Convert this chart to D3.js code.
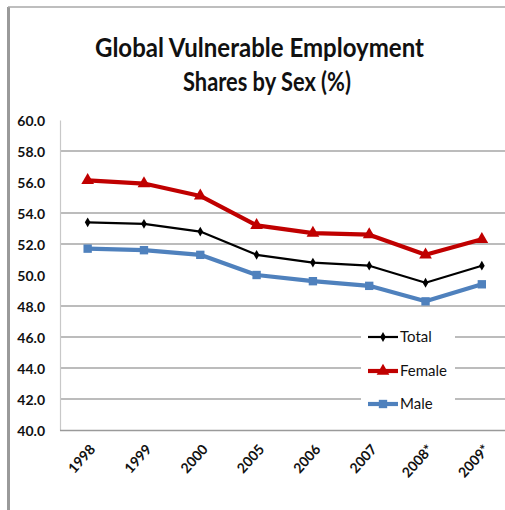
<!DOCTYPE html>
<html>
<head>
<meta charset="utf-8">
<script src="https://cdn.jsdelivr.net/npm/d3@7/dist/d3.min.js"></script>
<style>
  html, body { margin: 0; padding: 0; background: #fff; }
  svg { display: block; }
</style>
</head>
<body>
<svg id="chart" width="505" height="510"></svg>
<script>
// Years on the category axis (starred years are projections)
const years = ["1998", "1999", "2000", "2005", "2006", "2007", "2008*", "2009*"];

// Vulnerable employment shares, percent
const totalShare  = [53.4, 53.3, 52.8, 51.3, 50.8, 50.6, 49.5, 50.6];
const femaleShare = [56.1, 55.9, 55.1, 53.2, 52.7, 52.6, 51.3, 52.3];
const maleShare   = [51.7, 51.6, 51.3, 50.0, 49.6, 49.3, 48.3, 49.4];

// Value axis ticks and the horizontal gridlines that are drawn
const yTicks = [40, 42, 44, 46, 48, 50, 52, 54, 56, 58, 60];
const gridValues = [42, 44, 46, 48, 52, 54, 58];

const titleLines = ["Global Vulnerable Employment", "Shares by Sex (%)"];

const seriesList = [
  { name: "Total",  values: totalShare,  color: "#000000", width: 2.2, symbol: d3.symbolDiamond,  size: 28 },
  { name: "Female", values: femaleShare, color: "#C00000", width: 4.2, symbol: d3.symbolTriangle, size: 70 },
  { name: "Male",   values: maleShare,   color: "#4F81BD", width: 4.2, symbol: d3.symbolSquare,   size: 70 }
];

const svg = d3.select("#chart");
const font = "Lato, 'Open Sans', sans-serif";

// Outer frame (left and top edges)
svg.append("line").attr("x1", 8.5).attr("x2", 8.5).attr("y1", 7).attr("y2", 510)
  .attr("stroke", "#9a9a9a").attr("stroke-width", 3);
svg.append("line").attr("x1", 8).attr("x2", 505).attr("y1", 7).attr("y2", 7)
  .attr("stroke", "#a8a8a8").attr("stroke-width", 1.5);

// Title
const titleLayout = [
  { x: 95,  y: 57, len: 329 },
  { x: 183, y: 91, len: 168 }
];
svg.append("g").selectAll("text").data(titleLines).join("text")
  .attr("x", (d, i) => titleLayout[i].x)
  .attr("y", (d, i) => titleLayout[i].y)
  .attr("textLength", (d, i) => titleLayout[i].len)
  .attr("lengthAdjust", "spacingAndGlyphs")
  .attr("font-family", font).attr("font-weight", 700).attr("font-size", 27)
  .attr("fill", "#111")
  .text(d => d);

// Scales
const x = d3.scalePoint().domain(years).range([59.5, 510]).padding(0.5);
const y = d3.scaleLinear().domain([40, 60]).range([430, 120]);

// Gridlines
svg.append("g").selectAll("line").data(gridValues).join("line")
  .attr("x1", 60).attr("x2", 505)
  .attr("y1", d => y(d)).attr("y2", d => y(d))
  .attr("stroke", "#a6a6a6").attr("stroke-width", 1.3);

// Value axis
const yAxis = d3.axisLeft(y).tickValues(yTicks).tickFormat(d3.format(".1f")).tickSize(0).tickPadding(15);
const yG = svg.append("g").attr("transform", "translate(60,0)").call(yAxis);
yG.select(".domain").attr("stroke", "#c8c8c8").attr("stroke-width", 1.2);
yG.selectAll("text").attr("font-family", font).attr("font-weight", 700)
  .attr("font-size", 14).attr("fill", "#111").attr("dy", "0.4em");

// Category axis
const xAxis = d3.axisBottom(x).tickSize(0).tickPadding(0);
const xG = svg.append("g").attr("transform", "translate(0,430)").call(xAxis);
xG.select(".domain").attr("stroke", "#9a9a9a").attr("stroke-width", 1.4);
xG.selectAll("text")
  .attr("font-family", font).attr("font-weight", 700).attr("font-size", 14).attr("fill", "#111")
  .attr("text-anchor", "end").attr("dy", null).attr("y", 0)
  .attr("transform", "translate(8,20) rotate(-48)");

// Series lines and markers
const line = d3.line().x((d, i) => x(years[i])).y(d => y(d));
seriesList.forEach(s => {
  const g = svg.append("g");
  g.append("path").datum(s.values).attr("d", line)
    .attr("fill", "none").attr("stroke", s.color).attr("stroke-width", s.width)
    .attr("stroke-linejoin", "round");
  g.selectAll("path.m").data(s.values).join("path").attr("class", "m")
    .attr("d", d3.symbol().type(s.symbol).size(s.size))
    .attr("transform", (d, i) => `translate(${x(years[i])},${y(d)})`)
    .attr("fill", s.color);
});

// Legend
const legend = svg.append("g");
legend.append("rect").attr("x", 361).attr("y", 318).attr("width", 94).attr("height", 102).attr("fill", "#fff");
const legendY = [337, 371, 404];
seriesList.forEach((s, i) => {
  const ly = legendY[i];
  legend.append("line").attr("x1", 368).attr("x2", 398).attr("y1", ly).attr("y2", ly)
    .attr("stroke", s.color).attr("stroke-width", s.width);
  legend.append("path").attr("d", d3.symbol().type(s.symbol).size(s.size))
    .attr("transform", `translate(383,${ly})`).attr("fill", s.color);
  legend.append("text").attr("x", 400).attr("y", ly).attr("dy", "0.36em")
    .attr("font-family", font).attr("font-size", 15).attr("fill", "#111")
    .text(s.name);
});
</script>
</body>
</html>
